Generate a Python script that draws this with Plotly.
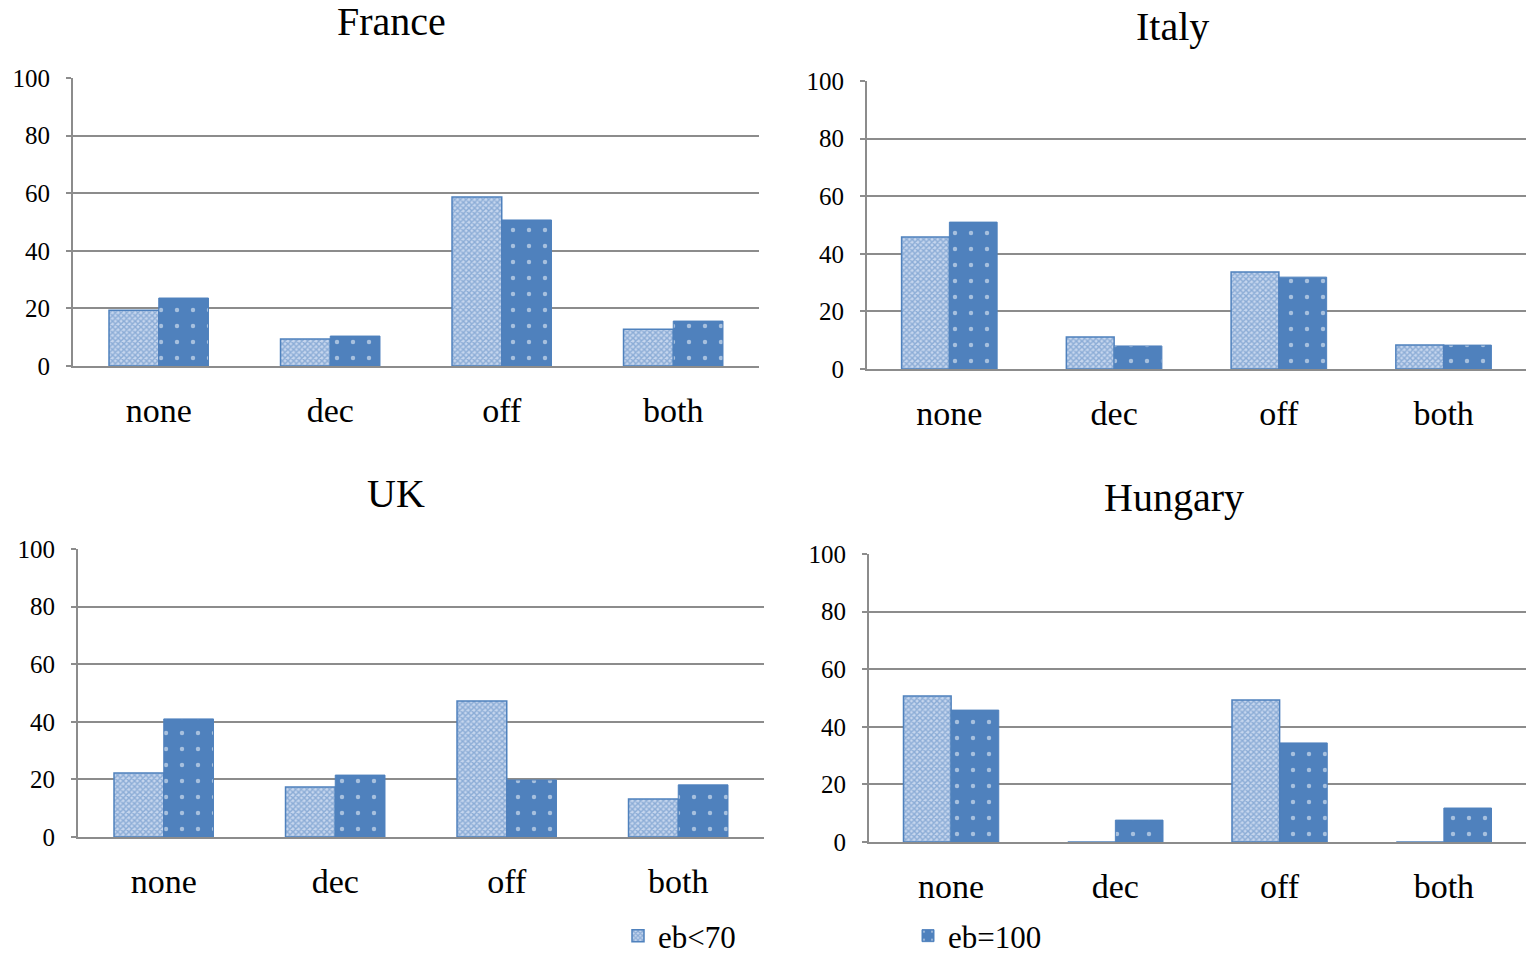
import plotly.graph_objects as go
from plotly.subplots import make_subplots

W, H = 1526, 955

categories = ["none", "dec", "off", "both"]
countries = ["France", "Italy", "UK", "Hungary"]
series_names = ["eb<70", "eb=100"]

france_lt70 = [19.4, 9.4, 58.7, 12.8]
france_100 = [23.6, 10.4, 50.7, 15.6]
italy_lt70 = [45.8, 11.1, 33.7, 8.3]
italy_100 = [51.0, 8.0, 31.9, 8.3]
uk_lt70 = [22.2, 17.4, 47.2, 13.2]
uk_100 = [41.0, 21.5, 19.8, 18.1]
hungary_lt70 = [50.7, 0, 49.3, 0]
hungary_100 = [45.8, 7.6, 34.4, 11.8]

y_ticks = [0, 20, 40, 60, 80, 100]

data = {
    "France": (france_lt70, france_100),
    "Italy": (italy_lt70, italy_100),
    "UK": (uk_lt70, uk_100),
    "Hungary": (hungary_lt70, hungary_100),
}

# plot-area boxes in pixels (left, right, top, bottom)
boxes = {
    "France": (73, 759, 78, 366),
    "Italy": (867, 1526, 81, 369),
    "UK": (78, 764, 549, 837),
    "Hungary": (869, 1526, 554, 842),
}
title_pos = {
    "France": (391, 22),
    "Italy": (1172, 26),
    "UK": (396, 493),
    "Hungary": (1174, 498),
}

BLUE = "#4F81BD"
GRID = "#8C8C8C"
FONT = "Liberation Serif"

fig = make_subplots(rows=2, cols=2)
positions = {"France": (1, 1), "Italy": (1, 2), "UK": (2, 1), "Hungary": (2, 2)}

for i, c in enumerate(countries):
    r, col = positions[c]
    lt70, v100 = data[c]
    fig.add_trace(go.Bar(
        x=categories, y=lt70, name=series_names[0], showlegend=(i == 0),
        legendgroup="a",
        marker=dict(color="#A9C1E3", line=dict(color=BLUE, width=1.5),
                    pattern=dict(shape="x", fgcolor=BLUE, bgcolor="#C6D6EE",
                                 size=4, solidity=0.6, fillmode="overlay")),
    ), row=r, col=col)
    fig.add_trace(go.Bar(
        x=categories, y=v100, name=series_names[1], showlegend=(i == 0),
        legendgroup="b",
        marker=dict(color=BLUE, line=dict(color=BLUE, width=1),
                    pattern=dict(shape=".", fgcolor="white", bgcolor=BLUE,
                                 size=16, solidity=0.06, fillmode="overlay")),
    ), row=r, col=col)

for i, c in enumerate(countries):
    l, rgt, t, b = boxes[c]
    xa = "xaxis" if i == 0 else f"xaxis{i+1}"
    ya = "yaxis" if i == 0 else f"yaxis{i+1}"
    fig.layout[xa].update(domain=[l / W, rgt / W], showgrid=False, showline=True,
                          linecolor=GRID, linewidth=2, ticks="", zeroline=False,
                          automargin=False,
                          ticklabelstandoff=13, range=[-0.5, 3.5],
                          tickfont=dict(family=FONT, size=34, color="black"))
    fig.layout[ya].update(domain=[1 - b / H, 1 - t / H], range=[0, 100],
                          tickvals=y_ticks, showgrid=True, gridcolor=GRID,
                          gridwidth=1.6, showline=True, linecolor=GRID, linewidth=2,
                          ticks="outside", ticklen=5, tickcolor=GRID, tickwidth=1.6,
                          zeroline=False, ticklabelstandoff=11, automargin=False,
                          tickfont=dict(family=FONT, size=25, color="black"))
    tx, ty = title_pos[c]
    fig.add_annotation(text=c, x=tx / W, y=1 - ty / H, xref="paper", yref="paper",
                       xanchor="center", yanchor="middle", showarrow=False,
                       font=dict(family=FONT, size=40, color="black"))

fig.update_layout(
    width=W, height=H, margin=dict(l=0, r=0, t=0, b=0, autoexpand=False),
    paper_bgcolor="white", plot_bgcolor="white",
    barmode="group", bargap=0.42, bargroupgap=0,
    font=dict(family=FONT, color="black"),
    legend=dict(orientation="h", x=618 / W, y=1 - 936 / H, xanchor="left",
                yanchor="middle", entrywidth=245, entrywidthmode="pixels",
                itemwidth=30, font=dict(family=FONT, size=31, color="black"),
                bgcolor="rgba(0,0,0,0)"),
)

fig.write_html(
    "out.html",
    config={"displayModeBar": False},
    post_script="document.body.style.margin='0px';document.body.style.overflow='hidden';",
)
